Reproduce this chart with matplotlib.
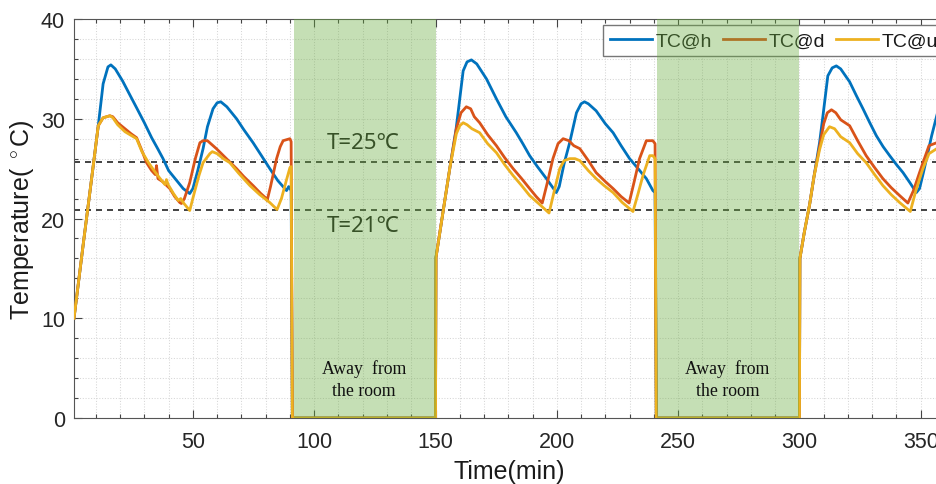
import matplotlib
matplotlib.use("Agg")
import matplotlib.pyplot as plt
from matplotlib.ticker import MultipleLocator

# ---------------- data ----------------
t_h = [1, 5, 8, 11, 13, 15, 16.2, 18, 21, 24, 26.8, 30, 33, 35.5, 37.7, 40, 43, 46, 48.7, 50, 52, 54.2,
       56, 58.3, 60, 61.5, 64, 68, 71, 74.8, 78, 81.7, 85, 88.6, 89.5, 90.5, 91, 150,
       150.2, 153, 156, 158.5, 160, 161.4, 163, 164.8, 167, 171, 175.1, 179, 183.3, 186, 188.8, 192,
       195.7, 199.8, 201, 203, 205.3, 208.1, 210, 211.4, 213, 216.2, 220, 223.2, 226.5, 230, 233.5,
       236.9, 239.6, 240.5, 241, 300,
       300.2, 302, 304.2, 306, 308.3, 309.7, 311.7, 313.5, 315.2, 317, 320.7, 323.5, 326.2, 329, 331.7,
       334.5, 337.2, 340, 342.7, 345.5, 348.2, 349.5, 351, 352.4, 354.5, 356.6, 359]
T_h = [10, 17.8, 23.5, 29.3, 33.5, 35.2, 35.4, 35.0, 33.8, 32.4, 31.1, 29.6, 28.1, 27.0, 26.0, 24.8, 23.9, 23.0, 22.5, 23.0, 24.8, 27.0,
       29.2, 31.0, 31.6, 31.7, 31.2, 30.0, 28.9, 27.6, 26.4, 25.0, 23.8, 22.8, 23.2, 22.8, 0, 0,
       16.1, 20.5, 25.2, 29.0, 32.0, 34.8, 35.7, 35.9, 35.5, 34.0, 32.0, 30.2, 28.6, 27.5, 26.3, 25.2,
       24.0, 22.6, 23.2, 25.5, 27.6, 30.6, 31.5, 31.7, 31.5, 30.8, 29.5, 28.6, 27.3, 26.0, 25.0,
       24.0, 22.8, 22.6, 0, 0,
       16.0, 18.6, 21.4, 24.2, 27.6, 30.3, 34.3, 35.1, 35.3, 35.0, 33.7, 32.3, 31.0, 29.6, 28.3,
       27.2, 26.3, 25.4, 24.6, 23.6, 22.6, 23.0, 24.5, 26.0, 28.3, 30.3, 32.5]

t_d = [1, 5, 8, 11, 13, 15.8, 17, 19, 22, 24.5, 26.8, 29, 30.9, 33, 34.5, 35, 35.6, 37.5, 40.5, 42.5, 44.6,
       45.3, 46.5, 48.7, 51, 52.9, 54.2, 56, 59.7, 63, 68, 71, 74.8, 78, 80.3, 80.6, 82, 84.5, 86, 87.2,
       90, 90.5, 91, 150,
       150.2, 153, 156, 158.6, 160.5, 162.7, 164.5, 166, 168.2, 171.5, 175.1, 178.5, 182, 185.5, 188.8,
       191.5, 194, 196, 198.4, 200.5, 202.6, 205, 207, 209.5, 213, 216.2, 220, 223.2, 226.5, 229.8,
       232, 234.1, 236.9, 239.6, 240.5, 241, 300,
       300.2, 302, 304.2, 306, 308.3, 310, 311.5, 313.2, 315, 317, 320.7, 324, 327.5, 331, 334.4, 337.8, 341.3,
       344.7, 347, 349.5, 351.5, 353.4, 356.6, 359]
T_d = [10, 17.8, 23.5, 29.3, 30.1, 30.3, 30.2, 29.6, 29.0, 28.5, 28.1, 26.8, 25.6, 24.8, 24.4, 25.3, 24.0, 23.7, 23.0, 22.2, 21.6,
       21.5, 22.0, 23.6, 26.0, 27.6, 27.8, 27.8, 27.0, 26.2, 25.0, 24.2, 23.3, 22.5, 22.0, 21.8, 23.2, 26.0, 27.2, 27.8,
       28.0, 27.7, 0, 0,
       16.1, 20.5, 25.2, 29.0, 30.6, 31.2, 31.0, 30.2, 29.6, 28.4, 27.3, 26.1, 25.0, 24.0, 23.0,
       22.2, 21.55, 23.5, 26.0, 27.5, 28.0, 27.8, 27.3, 27.0, 25.8, 24.6, 23.7, 23.0, 22.2, 21.55,
       23.8, 26.0, 27.8, 27.8, 27.5, 0, 0,
       16.0, 18.6, 21.4, 24.2, 27.2, 29.5, 30.6, 30.9, 30.6, 29.9, 29.3, 27.8, 26.3, 25.1, 24.0, 23.1, 22.3,
       21.55, 22.8, 24.6, 26.0, 27.3, 27.6, 27.6]

t_u = [1, 5, 8, 11, 13, 15.8, 17, 19, 22, 26.8, 29, 31.7, 34, 36.5, 38.5, 39.1, 39.8, 42, 44, 45, 46,
       48.7, 50.5, 52.5, 54.2, 57, 58, 60, 62.5, 65.2, 69, 73.5, 77.5, 81.7, 84.7, 86.5, 88.5, 90, 90.5,
       91, 150,
       150.2, 153, 156, 158.6, 160, 161.4, 163, 165, 168.2, 171.5, 175.1, 178.5, 182, 185.5, 188.8,
       192.5, 196.8, 199, 201.2, 203, 205.3, 207.5, 209.5, 213, 216.2, 219.5, 223.2, 227, 231.4,
       233.5, 235.5, 238.3, 239.6, 240.5, 241, 300,
       300.2, 302, 304.2, 306, 308.3, 310, 312.4, 314.5, 317, 320.7, 324, 327.5, 331, 334.4, 337.8, 341.3,
       345.7, 348, 350.9, 353.4, 356.6, 359]
T_u = [10, 17.8, 23.5, 29.3, 30.1, 30.3, 30.1, 29.4, 28.7, 28.0, 26.7, 25.6, 24.8, 24.0, 23.4, 23.9, 23.4, 22.5, 21.8, 22.0, 21.6,
       20.8, 22.5, 24.3, 25.6, 26.5, 26.7, 26.5, 26.0, 25.6, 24.5, 23.3, 22.4, 21.6, 20.9, 22.0, 23.8, 25.1, 25.2,
       0, 0,
       16.1, 20.5, 25.2, 28.5, 29.3, 29.6, 29.4, 29.0, 28.6, 27.5, 26.6, 25.4, 24.3, 23.3, 22.3,
       21.5, 20.55, 22.8, 25.0, 25.8, 26.0, 26.0, 25.8, 24.8, 24.0, 23.3, 22.6, 21.6, 20.7,
       22.5, 24.3, 26.3, 26.3, 26.0, 0, 0,
       16.0, 18.6, 21.4, 24.2, 26.9, 28.4, 29.2, 29.0, 28.2, 27.6, 26.5, 25.6, 24.4, 23.3, 22.4, 21.6,
       20.7, 22.8, 25.0, 26.5, 27.0, 27.0]

series_labels = ["TC@h", "TC@d", "TC@u"]
away_periods = [(91.5, 150), (241.2, 300)]
threshold_values = [25.7, 20.85]
threshold_labels = ["T=25℃", "T=21℃"]
threshold_label_y = [27.6, 19.3]
away_label = "Away  from\nthe room"

x_ticks = [50, 100, 150, 200, 250, 300, 350]
y_ticks = [0, 10, 20, 30, 40]

# ---------------- style ----------------
plt.rcParams['font.family'] = ['Liberation Sans', 'DejaVu Sans']
plt.rcParams['mathtext.fontset'] = 'custom'
plt.rcParams['mathtext.rm'] = 'Liberation Sans'
plt.rcParams['mathtext.it'] = 'Liberation Sans'

colors = ['#0072BD', '#D95319', '#EDB120']

fig = plt.figure(figsize=(9.37, 4.85), dpi=100)
ax = fig.add_axes([74/937, 66/485, 871/937, 399/485])

ax.set_xlim(1, 360)
ax.set_ylim(0, 40)

for spine in ax.spines.values():
    spine.set_color('#555555')
    spine.set_linewidth(0.8)

ax.xaxis.set_minor_locator(MultipleLocator(10))
ax.yaxis.set_minor_locator(MultipleLocator(2))
ax.set_xticks(x_ticks)
ax.set_yticks(y_ticks)

ax.tick_params(which='both', direction='in', top=True, right=True, color='#444444', width=0.8)
ax.tick_params(which='major', length=6, labelsize=15.5, labelcolor='#262626')
ax.tick_params(which='minor', length=3)
ax.tick_params(axis='x', which='major', pad=9.5)
ax.tick_params(axis='y', which='major', pad=6.5)

ax.grid(which='both', color='#d6d6d6', linestyle=':', linewidth=0.75)
ax.set_axisbelow(True)

ax.plot(t_h, T_h, color=colors[0], lw=2.0, label=series_labels[0], zorder=3)
ax.plot(t_d, T_d, color=colors[1], lw=2.0, label=series_labels[1], zorder=3)
ax.plot(t_u, T_u, color=colors[2], lw=2.0, label=series_labels[2], zorder=3)

for yv in threshold_values:
    ax.axhline(yv, color='#222222', lw=1.2, dashes=(3.6, 3.0), zorder=2.5)

for lab, yy in zip(threshold_labels, threshold_label_y):
    ax.text(120, yy, lab, ha='center', va='center', fontsize=16, color='#1a1a1a',
            family=['Noto Sans', 'Noto Sans CJK SC', 'DejaVu Sans'], zorder=4)

leg = ax.legend(loc='upper left', bbox_to_anchor=(603.3/937, 1 - 26/485),
                bbox_transform=fig.transFigure, ncol=3, fontsize=14, frameon=True,
                fancybox=False, borderpad=0.35, handlelength=2.15, handletextpad=0.2,
                columnspacing=0.55, borderaxespad=0)
leg.get_frame().set_edgecolor('#777777')
leg.get_frame().set_linewidth(1.0)
leg.get_frame().set_facecolor('white')
leg.get_frame().set_alpha(1)
leg.set_zorder(5)
for txt in leg.get_texts():
    txt.set_color('#1a1a1a')

for (a, b) in away_periods:
    ax.axvspan(a, b, facecolor='#68AC3E', alpha=0.38, edgecolor='none', zorder=6)
    ax.text((a + b) / 2 - 0.3, 3.9, away_label, ha='center', va='center', fontsize=12.8,
            family='Liberation Serif', color='#111111', linespacing=1.35, zorder=7)

ax.set_xlabel('Time(min)', fontsize=18, color='#1a1a1a')
ax.set_ylabel(r'Temperature( $^\circ$C)', fontsize=18, color='#1a1a1a')
ax.xaxis.set_label_coords(0.5, -0.102)
ax.yaxis.set_label_coords(-0.044, 0.5)

fig.savefig('out.png', dpi=100)
